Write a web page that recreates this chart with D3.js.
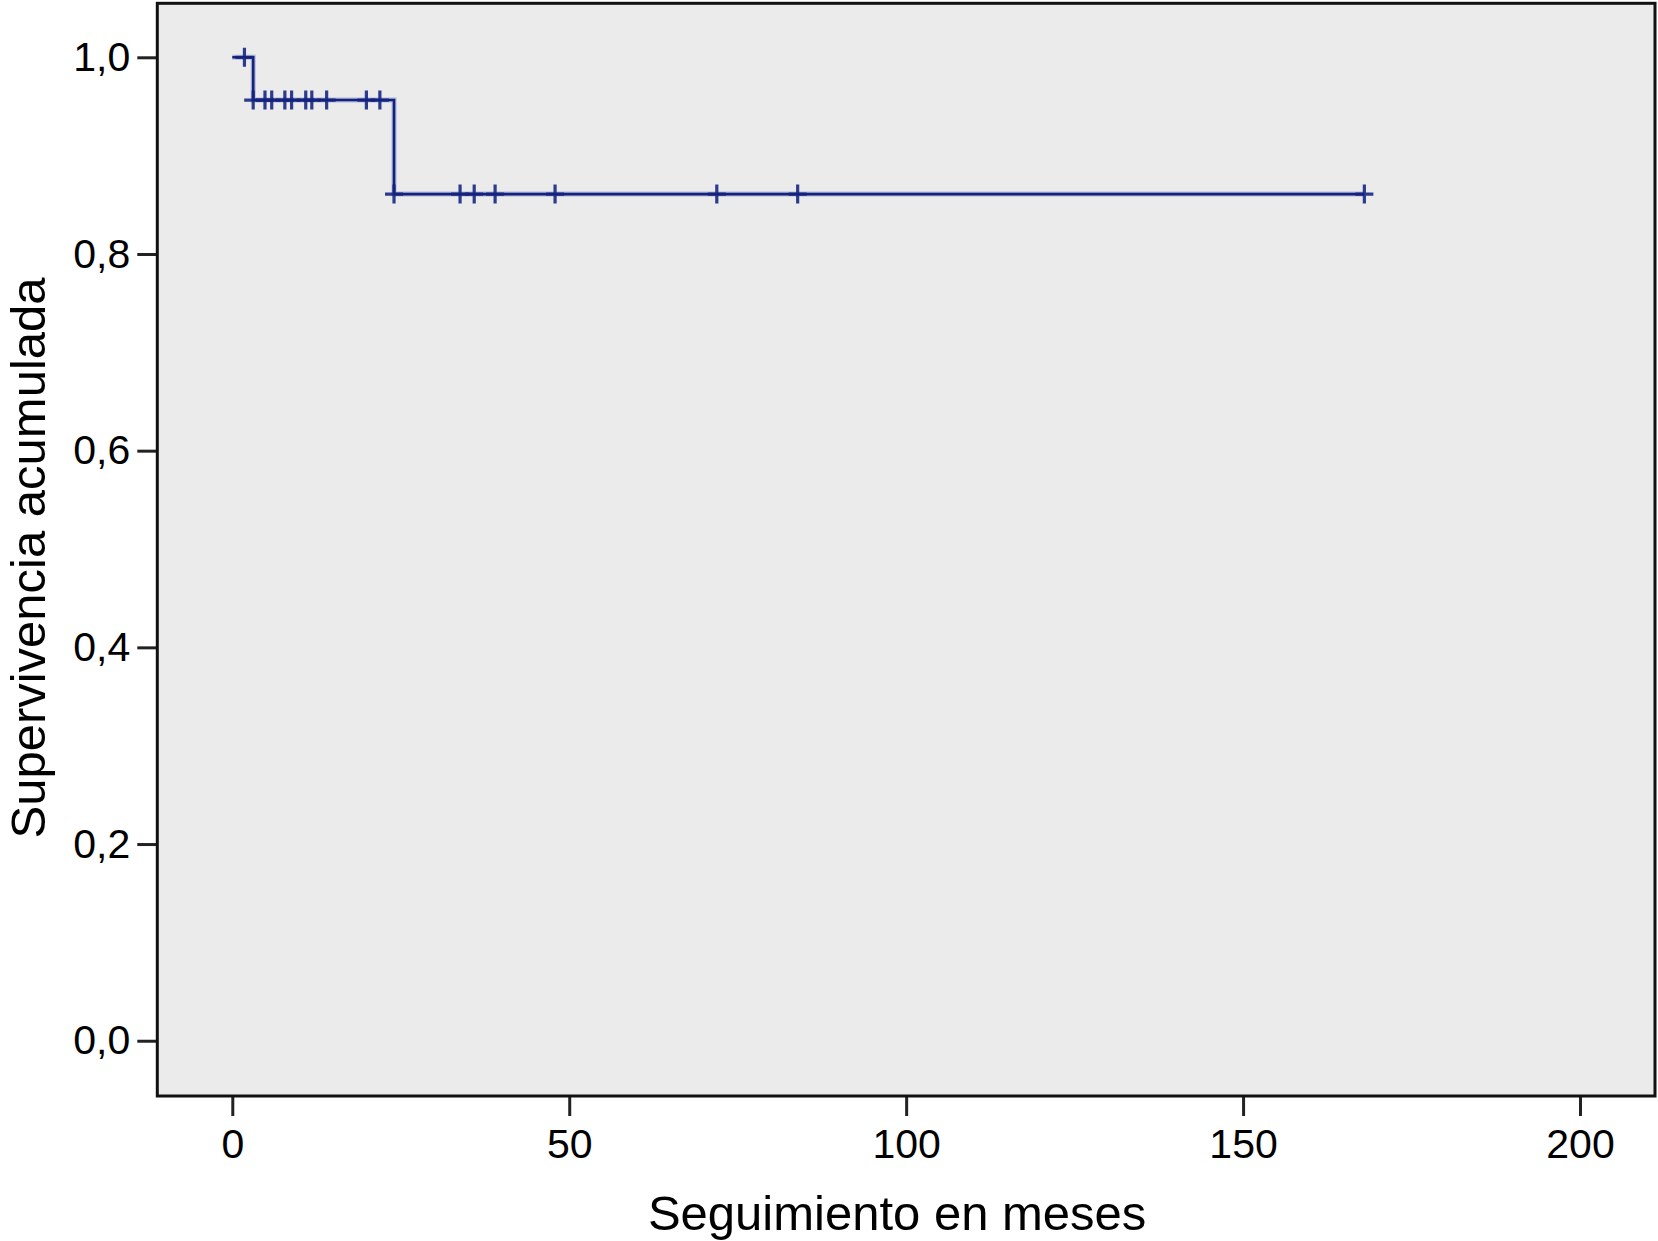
<!DOCTYPE html>
<html>
<head>
<meta charset="utf-8">
<script src="https://cdn.jsdelivr.net/npm/d3@7/dist/d3.min.js"></script>
<style>
  html, body { margin: 0; padding: 0; background: #ffffff; }
  svg { display: block; }
  text { font-family: "Liberation Sans", Arial, Helvetica, sans-serif; fill: #000; }
</style>
</head>
<body>
<svg id="chart" width="1658" height="1241"></svg>
<script>
// ---- Data ----
const stepTimes    = [0, 3.1, 24.0, 168.0];
const stepSurvival = [1.0, 0.9565, 0.8609, 0.8609];

const censorTimes = [1.8,
  3.1, 4.85, 5.85, 7.8, 8.8, 10.9, 11.8, 14.0, 19.9, 21.9,
  24.0, 33.8, 35.9, 39.0, 47.9, 71.9, 83.9, 168.0];
const censorSurvival = [1.0,
  0.9565, 0.9565, 0.9565, 0.9565, 0.9565, 0.9565, 0.9565, 0.9565, 0.9565, 0.9565,
  0.8609, 0.8609, 0.8609, 0.8609, 0.8609, 0.8609, 0.8609, 0.8609];

const xTicks = [0, 50, 100, 150, 200];
const yTicks = [0.0, 0.2, 0.4, 0.6, 0.8, 1.0];
const xTitle = "Seguimiento en meses";
const yTitle = "Supervivencia acumulada";

// ---- Layout ----
const svg = d3.select("#chart");
const plot = { left: 157.3, right: 1655, top: 3.3, bottom: 1096 };

const x = d3.scaleLinear().domain([-11.13, 211.13]).range([plot.left, plot.right]);
const y = d3.scaleLinear().domain([-0.0562, 1.0549]).range([plot.bottom, plot.top]);

// background
svg.append("rect")
  .attr("x", plot.left).attr("y", plot.top)
  .attr("width", plot.right - plot.left).attr("height", plot.bottom - plot.top)
  .attr("fill", "#ebebeb");

// axes
const fmt = d => d.toFixed(1).replace(".", ",");
const yAxis = svg.append("g")
  .attr("transform", `translate(${plot.left},0)`)
  .call(d3.axisLeft(y).tickValues(yTicks).tickFormat(fmt).tickSize(20).tickPadding(7));
const xAxis = svg.append("g")
  .attr("transform", `translate(0,${plot.bottom})`)
  .call(d3.axisBottom(x).tickValues(xTicks).tickFormat(d3.format("d")).tickSize(20).tickPadding(13));

[xAxis, yAxis].forEach(g => {
  g.select(".domain").remove();
  g.selectAll(".tick line").attr("stroke", "#222").attr("stroke-width", 3);
  g.selectAll(".tick text").attr("font-size", 41).attr("font-family", "Liberation Sans, Arial, sans-serif").attr("fill", "#000");
});

// survival step line
const line = d3.line()
  .x((d, i) => x(stepTimes[i]))
  .y((d, i) => y(stepSurvival[i]))
  .curve(d3.curveStepAfter);

svg.append("path")
  .datum(stepTimes)
  .attr("d", line)
  .attr("fill", "none")
  .attr("stroke", "#7f8cc4")
  .attr("stroke-width", 5)
  .attr("opacity", 0.55);
svg.append("path")
  .datum(stepTimes)
  .attr("d", line)
  .attr("fill", "none")
  .attr("stroke", "#12227e")
  .attr("stroke-width", 2.6);

// censor marks
const cg = svg.append("g");
censorTimes.forEach((t, i) => {
  const cx = x(t), cy = y(censorSurvival[i]);
  cg.append("path")
    .attr("d", `M${cx - 9},${cy}H${cx + 9}M${cx},${cy - 9.5}V${cy + 9.5}`)
    .attr("stroke", "#12227e")
    .attr("stroke-width", 3.2)
    .attr("opacity", 0.88)
    .attr("fill", "none");
});

// frame
svg.append("rect")
  .attr("x", plot.left).attr("y", plot.top)
  .attr("width", plot.right - plot.left).attr("height", plot.bottom - plot.top)
  .attr("fill", "none").attr("stroke", "#111").attr("stroke-width", 3);

// titles
svg.append("text")
  .attr("x", (plot.left + plot.right) / 2 - 9)
  .attr("y", 1230)
  .attr("text-anchor", "middle")
  .attr("font-size", 49)
  .text(xTitle);

svg.append("text")
  .attr("transform", `translate(45,${558}) rotate(-90)`)
  .attr("text-anchor", "middle")
  .attr("font-size", 49)
  .text(yTitle);
</script>
</body>
</html>
